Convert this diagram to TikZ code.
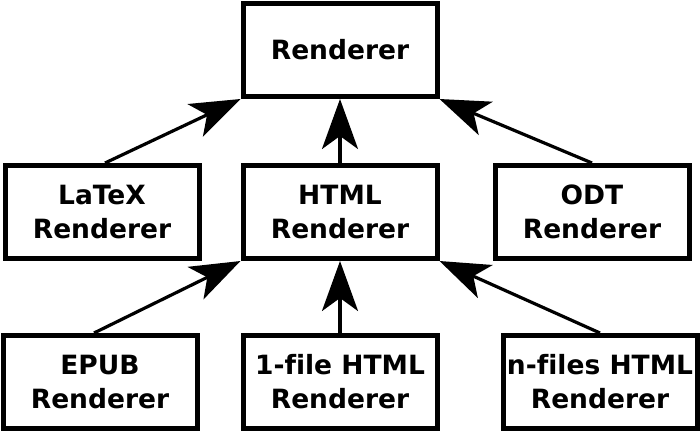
\documentclass[tikz,border=0pt]{standalone}
\usepackage{fontspec}
\setmainfont[Ligatures=NoCommon]{DejaVu Sans}
\usetikzlibrary{arrows.meta}
\begin{document}
\begin{tikzpicture}[x=1pt,y=-1pt,
  box/.style={draw,line width=5pt,rectangle,minimum width=#1,minimum height=93pt,align=center,inner sep=0pt,
    font=\fontsize{26.5}{34}\selectfont\bfseries},
  box/.default=194pt,
  arr/.style={line width=3.2pt,-{Stealth[length=50pt,width=36pt,inset=13pt]}}]
\useasboundingbox (0,0) rectangle (700,432);
\node[box] (r) at (340,50) {Renderer};
\node[box] (latex) at (102,212) {LaTeX\\Renderer};
\node[box] (html) at (340,212) {HTML\\Renderer};
\node[box] (odt) at (592,212) {ODT\\Renderer};
\node[box] (epub) at (100,382) {EPUB\\Renderer};
\node[box] (one) at (340,382) {1-file HTML\\Renderer};
\node[box] (nf) at (600,382) {n-files HTML\\Renderer};
\draw[arr] (latex.north) ++(3,0) coordinate (a1) (a1) -- (r.south west);
\draw[arr] (html.north) -- (r.south);
\draw[arr] (odt.north) -- (r.south east);
\draw[arr] (epub.north) ++(-6,0) coordinate (a2) (a2) -- (html.south west);
\draw[arr] (one.north) -- (html.south);
\draw[arr] (nf.north) -- (html.south east);
\end{tikzpicture}
\end{document}
